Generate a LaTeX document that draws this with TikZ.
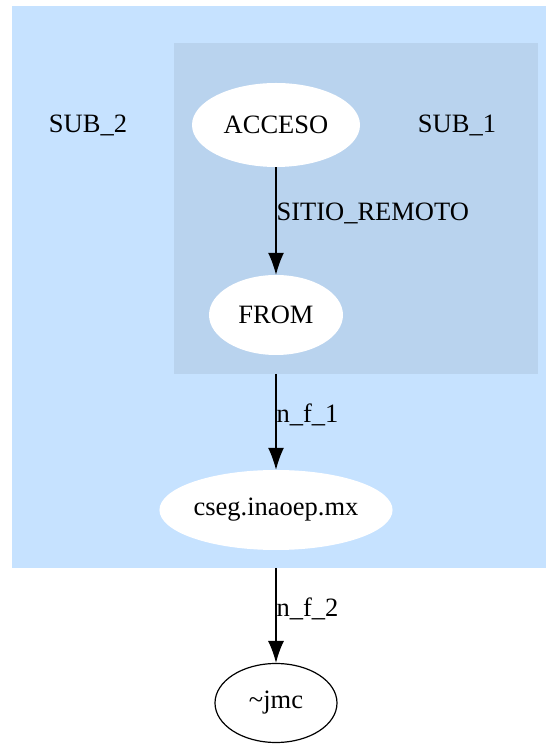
\documentclass[tikz,border=0pt]{standalone}
\usepackage{fontspec}
\setmainfont{Liberation Serif}
\usepackage{tikz}
\usetikzlibrary{arrows.meta,positioning,shapes.geometric}
\definecolor{subtwocolor}{RGB}{198,226,255}
\definecolor{subonecolor}{RGB}{185,211,238}

\begin{document}
\begin{tikzpicture}[x=1pt,y=1pt,font=\fontsize{26.5}{30}\selectfont,
    state/.style={ellipse,fill=white,inner sep=0pt},
    edge/.style={-{Latex[length=22pt,width=16pt]},line width=1.2pt}]
    \useasboundingbox (0,0) rectangle (546,744);
    % clusters
    \fill[subtwocolor] (12,176) rectangle (546,738);
    \fill[subonecolor] (174,370) rectangle (538,701);
    \node (sub2) at (88,619) {SUB\_2};
    \node (sub1) at (457,619) {SUB\_1};
    \coordinate (sub1b) at (276,370);
    \coordinate (sub2b) at (276,176);

    \node[state,minimum width=168pt,minimum height=84pt] (acceso) at (276,619) {ACCESO};
    \node[state,minimum width=134pt,minimum height=80pt] (from) at (276,429) {FROM};
    \node[state,minimum width=222pt,minimum height=80pt] (cseg) at (276,234) {cseg.inaoep.mx};
    \node[state,draw,line width=1.2pt,minimum width=122pt,minimum height=79pt] (jmc) at (276,41) {\textasciitilde jmc};

    \draw[edge] (acceso) -- node[right,pos=0.43,inner sep=0pt] {SITIO\_REMOTO} (from);
    \draw[edge] (sub1b) -- node[right,pos=0.43,inner sep=0pt] {n\_f\_1} (cseg);
    \draw[edge] (sub2b) -- node[right,pos=0.43,inner sep=0pt] {n\_f\_2} (jmc);
\end{tikzpicture}
\end{document}
